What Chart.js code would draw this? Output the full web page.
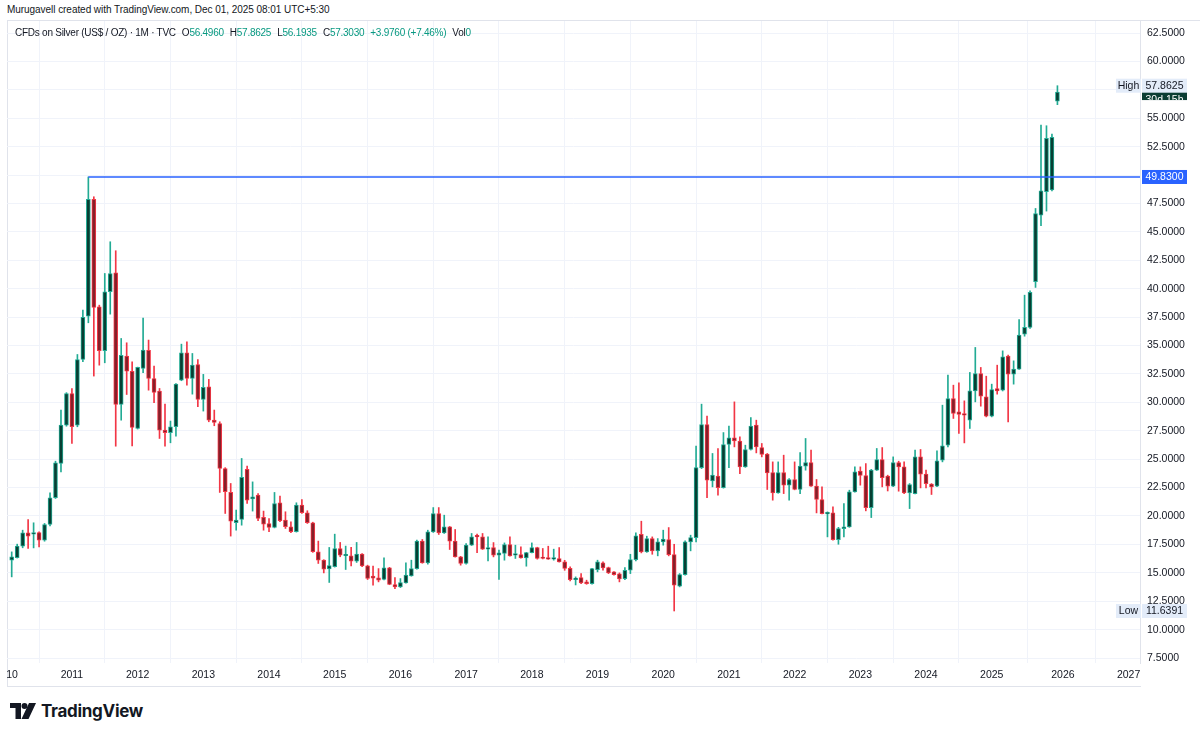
<!DOCTYPE html>
<html>
<head>
<meta charset="utf-8">
<script src="https://cdn.jsdelivr.net/npm/chart.js@4.4.0/dist/chart.umd.min.js"></script>
<style>
  html, body { margin: 0; padding: 0; background: #fff; }
  body { width: 1200px; height: 736px; position: relative; overflow: hidden;
         font-family: "Liberation Sans", Arial, sans-serif; color: #131722; }
  #credit { position: absolute; left: 7px; top: 4px; font-size: 10px; letter-spacing: -0.05px; white-space: nowrap; }
  #frame { position: absolute; left: 7px; top: 20px; width: 1193px; height: 667px;
           border-left: 1px solid #e0e3eb; border-top: 1px solid #e0e3eb; border-bottom: 1px solid #e0e3eb;
           box-sizing: border-box; }
  #wrap { position: absolute; left: 7px; top: 21px; width: 1193px; height: 666px; }
  #legend { position: absolute; left: 15px; top: 27px; font-size: 10px; letter-spacing: -0.25px; white-space: nowrap; z-index: 2; }
  #legend .v { color: #089981; }
  #legend .g { margin-left: 6px; }
  #logo { position: absolute; left: 10px; top: 701px; height: 20px; display: flex; align-items: center; }
  #logo span { font-family: Inter, Roboto, sans-serif; font-weight: 700; font-size: 17px; margin-left: 5px; letter-spacing: -0.3px; }
</style>
</head>
<body>
<div id="credit">Murugavell created with TradingView.com, Dec 01, 2025 08:01 UTC+5:30</div>
<div id="frame"></div>
<div id="wrap"><canvas id="chart"></canvas></div>
<div id="legend">CFDs on Silver (US$ / OZ) · 1M · TVC<span class="g">O<span class="v">56.4960</span></span><span class="g">H<span class="v">57.8625</span></span><span class="g">L<span class="v">56.1935</span></span><span class="g">C<span class="v">57.3030</span></span><span class="g v">+3.9760 (+7.46%)</span><span class="g">Vol<span class="v">0</span></span></div>
<div id="logo">
  <svg width="26" height="16" viewBox="0 0 26 16"><path d="M0 0h11v16H5.5V5H0z" fill="#131722"/><circle cx="14.5" cy="3" r="3" fill="#131722"/><path d="M19 0h7l-7.5 16h-7z" fill="#131722"/></svg>
  <span>TradingView</span>
</div>
<script>
// monthly bars, TVC silver CFD
const months = [
  '2010-02','2010-03','2010-04','2010-05','2010-06','2010-07','2010-08','2010-09','2010-10','2010-11','2010-12',
  '2011-01','2011-02','2011-03','2011-04','2011-05','2011-06','2011-07','2011-08','2011-09','2011-10','2011-11','2011-12',
  '2012-01','2012-02','2012-03','2012-04','2012-05','2012-06','2012-07','2012-08','2012-09','2012-10','2012-11','2012-12',
  '2013-01','2013-02','2013-03','2013-04','2013-05','2013-06','2013-07','2013-08','2013-09','2013-10','2013-11','2013-12',
  '2014-01','2014-02','2014-03','2014-04','2014-05','2014-06','2014-07','2014-08','2014-09','2014-10','2014-11','2014-12',
  '2015-01','2015-02','2015-03','2015-04','2015-05','2015-06','2015-07','2015-08','2015-09','2015-10','2015-11','2015-12',
  '2016-01','2016-02','2016-03','2016-04','2016-05','2016-06','2016-07','2016-08','2016-09','2016-10','2016-11','2016-12',
  '2017-01','2017-02','2017-03','2017-04','2017-05','2017-06','2017-07','2017-08','2017-09','2017-10','2017-11','2017-12',
  '2018-01','2018-02','2018-03','2018-04','2018-05','2018-06','2018-07','2018-08','2018-09','2018-10','2018-11','2018-12',
  '2019-01','2019-02','2019-03','2019-04','2019-05','2019-06','2019-07','2019-08','2019-09','2019-10','2019-11','2019-12',
  '2020-01','2020-02','2020-03','2020-04','2020-05','2020-06','2020-07','2020-08','2020-09','2020-10','2020-11','2020-12',
  '2021-01','2021-02','2021-03','2021-04','2021-05','2021-06','2021-07','2021-08','2021-09','2021-10','2021-11','2021-12',
  '2022-01','2022-02','2022-03','2022-04','2022-05','2022-06','2022-07','2022-08','2022-09','2022-10','2022-11','2022-12',
  '2023-01','2023-02','2023-03','2023-04','2023-05','2023-06','2023-07','2023-08','2023-09','2023-10','2023-11','2023-12',
  '2024-01','2024-02','2024-03','2024-04','2024-05','2024-06','2024-07','2024-08','2024-09','2024-10','2024-11','2024-12',
  '2025-01','2025-02','2025-03','2025-04','2025-05','2025-06','2025-07','2025-08','2025-09','2025-10','2025-11','2025-11b','2025-12'
];

const opens = [
  16.11, 16.34, 17.34, 18.51, 18.40, 18.54, 17.87, 19.25, 21.60, 24.62, 27.99,
  30.78, 27.99, 33.77, 37.59, 47.86, 38.41, 34.54, 39.73, 41.40, 29.81, 34.07, 32.72,
  27.70, 32.98, 34.57, 32.10, 30.98, 27.55, 27.32, 27.85, 31.95, 34.36, 32.10, 33.33,
  30.26, 31.37, 28.44, 28.14, 24.18, 22.07, 19.40, 19.69, 24.10, 21.50, 21.84, 19.87,
  19.34, 18.99, 21.16, 19.63, 19.05, 18.61, 20.96, 20.28, 19.40, 16.85, 16.11, 15.35,
  15.53, 17.14, 16.50, 16.49, 16.03, 16.64, 15.61, 14.70, 14.55, 14.41, 15.43, 13.97,
  13.76, 14.11, 14.73, 15.37, 17.78, 15.87, 18.60, 20.22, 18.51, 19.04, 17.78, 16.40,
  15.82, 17.43, 18.25, 18.16, 17.08, 17.22, 16.55, 16.70, 17.49, 16.55, 16.61, 16.31,
  16.78, 17.22, 16.31, 16.31, 16.20, 16.26, 15.96, 15.40, 14.40, 14.58, 14.20, 14.05,
  15.28, 15.87, 15.46, 15.08, 14.90, 14.49, 15.22, 16.16, 18.39, 16.84, 18.01, 16.93,
  17.72, 17.93, 16.60, 13.82, 14.84, 17.72, 18.10, 24.26, 28.05, 23.09, 23.50, 22.50,
  26.29, 26.87, 26.58, 24.32, 25.85, 27.99, 26.02, 25.44, 23.82, 22.03, 23.82, 22.71,
  23.21, 22.33, 24.38, 24.70, 22.62, 21.45, 20.19, 20.27, 17.92, 18.89, 19.04, 22.12,
  23.94, 23.56, 20.74, 24.03, 24.97, 23.50, 22.62, 24.70, 24.32, 22.03, 21.97, 25.20,
  23.68, 22.80, 22.62, 24.91, 26.23, 30.34, 29.17, 29.00, 28.43, 31.01, 32.54, 30.48,
  28.78, 31.22, 31.07, 34.06, 32.48, 32.92, 36.00, 36.59, 40.61, 46.48, 48.53, 48.70, 56.496
];
const highs = [
  16.84, 17.52, 18.75, 19.69, 19.40, 18.60, 19.34, 22.04, 24.82, 29.31, 30.85,
  31.22, 34.21, 38.12, 49.83, 48.09, 38.55, 41.34, 44.13, 43.34, 35.62, 35.24, 33.57,
  33.10, 37.41, 35.48, 33.19, 31.22, 29.84, 28.35, 31.65, 35.12, 35.33, 34.30, 33.77,
  32.46, 32.02, 29.32, 28.29, 24.25, 22.86, 20.52, 25.06, 24.39, 23.00, 21.98, 20.43,
  19.78, 22.07, 21.75, 20.37, 19.49, 21.16, 21.45, 20.46, 19.45, 17.79, 16.15, 17.23,
  18.40, 17.67, 17.35, 17.23, 17.67, 16.70, 15.67, 15.58, 15.37, 16.31, 15.48, 14.58,
  14.49, 15.87, 16.11, 17.87, 17.93, 18.75, 20.74, 20.74, 20.07, 19.08, 18.81, 16.45,
  17.58, 18.46, 18.40, 18.46, 18.16, 17.66, 16.99, 17.63, 18.16, 17.43, 17.28, 16.80,
  17.63, 17.25, 17.14, 17.34, 17.08, 17.22, 16.10, 15.52, 14.64, 14.93, 14.35, 15.40,
  16.11, 15.96, 15.50, 15.10, 14.99, 15.46, 16.63, 18.51, 19.54, 18.22, 18.16, 18.01,
  18.75, 18.98, 17.51, 14.93, 17.81, 18.31, 26.14, 29.84, 28.78, 25.50, 25.93, 27.34,
  27.90, 30.04, 26.96, 26.23, 28.66, 28.43, 26.38, 25.50, 24.76, 24.76, 25.35, 23.29,
  24.76, 25.58, 26.82, 25.79, 23.21, 22.56, 20.36, 20.80, 19.00, 21.09, 22.27, 24.32,
  24.32, 24.61, 24.10, 25.94, 26.02, 23.59, 25.20, 24.82, 24.76, 22.85, 25.79, 25.85,
  24.03, 22.85, 25.73, 29.75, 32.39, 31.51, 31.72, 30.13, 32.63, 34.83, 33.07, 32.30,
  31.60, 33.27, 34.53, 34.15, 33.65, 37.29, 39.43, 39.81, 47.06, 54.40, 54.34, 53.60, 57.8625
];
const lows = [
  14.64, 16.30, 17.20, 17.14, 17.19, 17.28, 17.78, 19.13, 21.54, 23.88, 27.90,
  26.38, 27.85, 33.57, 37.00, 32.31, 33.27, 33.48, 37.76, 26.14, 28.43, 30.69, 26.17,
  27.65, 32.60, 31.07, 29.96, 26.82, 26.14, 26.44, 27.02, 31.90, 31.51, 30.72, 29.61,
  29.23, 28.29, 27.94, 22.07, 20.22, 18.23, 18.75, 19.19, 21.10, 20.43, 19.58, 18.75,
  18.61, 18.95, 19.49, 18.90, 18.52, 18.58, 20.22, 19.34, 16.80, 15.82, 14.99, 14.15,
  15.50, 16.41, 15.29, 15.61, 15.91, 15.53, 14.41, 13.91, 14.20, 14.38, 13.95, 13.61,
  13.70, 14.08, 14.70, 15.32, 15.84, 15.76, 18.55, 18.37, 18.46, 17.05, 16.38, 15.67,
  15.76, 17.40, 16.78, 17.05, 16.05, 16.40, 14.41, 16.11, 16.46, 16.26, 16.28, 15.58,
  16.75, 16.20, 16.22, 16.18, 16.11, 15.94, 15.22, 14.29, 13.93, 14.05, 13.99, 14.00,
  15.08, 15.22, 14.93, 14.78, 14.20, 14.40, 14.93, 16.05, 16.75, 16.80, 16.63, 16.49,
  17.43, 16.49, 11.6391, 13.76, 14.80, 16.93, 17.72, 24.17, 21.62, 22.56, 21.83, 22.45,
  24.26, 26.08, 23.73, 24.28, 25.80, 25.55, 25.20, 22.33, 21.39, 22.00, 21.97, 21.39,
  22.30, 21.97, 24.03, 22.60, 20.27, 20.18, 18.16, 17.87, 17.51, 18.16, 19.00, 22.10,
  22.71, 20.45, 19.86, 24.00, 22.56, 22.20, 22.58, 22.18, 21.97, 20.65, 21.95, 22.47,
  22.47, 21.89, 22.58, 24.76, 26.08, 28.58, 27.26, 26.43, 27.70, 30.04, 29.66, 28.72,
  28.72, 30.72, 31.00, 28.28, 31.60, 32.90, 35.82, 36.50, 40.11, 45.54, 46.83, 48.60, 56.1935
];
const closes = [
  16.40, 17.34, 18.51, 18.22, 18.48, 17.87, 19.25, 21.60, 24.68, 27.99, 30.78,
  27.85, 33.77, 37.47, 47.86, 38.35, 34.54, 39.73, 41.34, 29.81, 34.13, 32.75, 27.79,
  33.07, 34.59, 32.10, 30.87, 27.55, 27.32, 27.85, 31.60, 34.36, 32.10, 33.27, 30.25,
  31.31, 28.44, 28.23, 24.18, 22.13, 19.55, 19.63, 23.39, 21.40, 21.68, 19.78, 19.28,
  18.99, 21.10, 19.58, 19.05, 18.61, 20.96, 20.28, 19.40, 16.85, 16.11, 15.32, 15.64,
  17.14, 16.55, 16.52, 16.03, 16.64, 15.61, 14.50, 14.52, 14.35, 15.43, 13.97, 13.76,
  14.14, 14.79, 15.37, 17.78, 15.87, 18.60, 20.22, 18.51, 19.04, 17.78, 16.40, 15.82,
  17.43, 18.16, 18.16, 17.08, 17.22, 16.55, 16.75, 17.49, 16.49, 16.64, 16.31, 16.78,
  17.22, 16.26, 16.26, 16.20, 16.30, 15.96, 15.38, 14.40, 14.50, 14.11, 14.05, 15.37,
  15.96, 15.43, 14.99, 14.84, 14.46, 15.22, 16.16, 18.25, 16.84, 18.01, 16.93, 17.72,
  17.96, 16.60, 13.90, 14.84, 17.72, 18.10, 24.26, 28.05, 23.15, 23.59, 22.50, 26.29,
  26.87, 26.61, 24.32, 25.85, 27.90, 26.08, 25.41, 23.79, 22.03, 23.82, 22.71, 23.21,
  22.33, 24.38, 24.70, 22.62, 21.45, 20.21, 20.27, 17.92, 18.89, 19.04, 22.12, 23.88,
  23.56, 20.74, 24.03, 24.97, 23.38, 22.62, 24.70, 24.32, 22.03, 22.77, 25.20, 23.68,
  22.85, 22.56, 24.85, 26.17, 30.34, 29.02, 28.93, 28.87, 31.01, 32.54, 30.54, 28.78,
  31.13, 31.01, 34.00, 32.48, 32.92, 35.91, 36.59, 39.67, 46.62, 48.62, 53.23, 53.327, 57.303
];

const yearLabels = ['2010','2011','2012','2013','2014','2015','2016','2017','2018',
  '2019','2020','2021','2022','2023','2024','2025','2026','2027'];
const priceTicks = [7.5, 10, 12.5, 15, 17.5, 20, 22.5, 25, 27.5, 30, 32.5, 35, 37.5,
  40, 42.5, 45, 47.5, 50, 52.5, 55, 57.5, 60, 62.5];
const resistance = 49.83;
const resistanceFrom = '2011-04';
const rangeHigh = 57.8625;
const rangeLow = 11.6391;
const lastPrice = 57.303;

const UP = '#22ab94', UP_FILL = '#073f33';
const DOWN = '#f23645', DOWN_FILL = '#86202a';

// bar index of each January, extrapolated left/right of the data
function yearPos(y) {
  const i = months.indexOf(y + '-01');
  if (i >= 0) return i;
  if (+y < 2011) return months.indexOf('2010-02') - 1;
  return months.length + (+y - 2026) * 12;
}
const yearTicks = yearLabels.map(yearPos);

const isUp = closes.map((c, i) => c >= opens[i]);
const bodies = months.map((m, i) => ({ x: i, y: [opens[i], closes[i]] }));
const wicks = months.map((m, i) => ({ x: i, y: [lows[i], highs[i]] }));

// bar 0 sits 4.7px right of the pane edge, 5.475px per bar
const BAR = 5.475;
const xMin = -4.7 / BAR;
const xMax = xMin + 1133 / BAR;

// keep chart.js from shrinking the plot to fit edge labels
function noPad(s) {
  s.paddingLeft = 0; s.paddingRight = 0; s.paddingTop = 0; s.paddingBottom = 0;
}

const priceLabels = {
  id: 'priceLabels',
  afterDraw(chart) {
    const { ctx, chartArea } = chart;
    const y = chart.scales.y;
    const bx = y.left + 2, bw = 45;

    // hide the part of the last time label that runs under the price scale
    ctx.fillStyle = '#ffffff';
    ctx.fillRect(chartArea.right + 1, chartArea.bottom + 1, 60, 23);

    ctx.save();
    ctx.font = '10.5px "Liberation Sans", Arial, sans-serif';
    ctx.textBaseline = 'middle';
    ctx.textAlign = 'center';

    // last price label, mostly covered by the High tag
    const yl = y.getPixelForValue(lastPrice);
    ctx.fillStyle = '#0b3d33';
    ctx.fillRect(bx, yl - 7, bw, 15);
    ctx.beginPath(); ctx.rect(bx, yl - 7, bw, 15); ctx.clip();
    ctx.fillStyle = '#ffffff';
    ctx.fillText('30d 15h', bx + bw / 2, yl + 8);
    ctx.restore();

    ctx.save();
    ctx.font = '10.5px "Liberation Sans", Arial, sans-serif';
    ctx.textBaseline = 'middle';
    ctx.textAlign = 'center';
    function tag(v, bg, fg, txt, side) {
      const py = y.getPixelForValue(v);
      ctx.fillStyle = bg;
      ctx.fillRect(bx, py - 7, bw, 14);
      ctx.fillStyle = fg;
      ctx.fillText(txt, bx + bw / 2, py + 0.5);
      if (side) {
        ctx.fillStyle = bg;
        ctx.fillRect(bx - 26, py - 7, 25, 14);
        ctx.fillStyle = fg;
        ctx.fillText(side, bx - 13.5, py + 0.5);
      }
    }
    tag(rangeHigh, '#e3ecf9', '#131722', rangeHigh.toFixed(4), 'High');
    tag(rangeLow, '#e3ecf9', '#131722', rangeLow.toFixed(4), 'Low');
    tag(resistance, '#2962ff', '#ffffff', resistance.toFixed(4));
    ctx.restore();
  }
};

new Chart(document.getElementById('chart'), {
  type: 'bar',
  data: {
    datasets: [
      {
        type: 'line',
        data: [{ x: months.indexOf(resistanceFrom), y: resistance }, { x: xMax, y: resistance }],
        borderColor: '#2962ff',
        borderWidth: 1.5,
        pointRadius: 0,
        order: 0
      },
      {
        data: bodies,
        grouped: false,
        barThickness: 4,
        minBarLength: 1.5,
        borderWidth: 1,
        borderSkipped: false,
        backgroundColor: ctx => isUp[ctx.dataIndex] ? UP_FILL : DOWN_FILL,
        borderColor: ctx => isUp[ctx.dataIndex] ? UP : DOWN,
        order: 1
      },
      {
        data: wicks,
        grouped: false,
        barThickness: 1,
        backgroundColor: ctx => isUp[ctx.dataIndex] ? UP : DOWN,
        order: 2
      }
    ]
  },
  options: {
    responsive: true,
    maintainAspectRatio: false,
    animation: false,
    layout: { padding: 0, autoPadding: false },
    plugins: { legend: { display: false }, tooltip: { enabled: false } },
    scales: {
      x: {
        type: 'linear',
        min: xMin,
        max: xMax,
        offset: false,
        afterBuildTicks: s => { s.ticks = yearTicks.map(v => ({ value: v })); },
        afterFit: s => { s.height = 24; noPad(s); },
        ticks: {
          autoSkip: false,
          maxRotation: 0,
          padding: 6,
          color: '#131722',
          font: { family: '"Liberation Sans", Arial, sans-serif', size: 10.5 },
          callback: v => yearLabels[yearTicks.indexOf(v)]
        },
        grid: { color: '#f0f3fa', drawTicks: false },
        border: { display: false }
      },
      y: {
        position: 'right',
        min: 7.062,
        max: 63.556,
        afterBuildTicks: s => { s.ticks = priceTicks.map(v => ({ value: v })); },
        afterFit: s => { s.width = 60; noPad(s); },
        ticks: {
          padding: 7,
          color: '#131722',
          font: { family: '"Liberation Sans", Arial, sans-serif', size: 10.5 },
          callback: v => v.toFixed(4)
        },
        grid: { color: '#f0f3fa', drawTicks: false },
        border: { color: '#e0e3eb' }
      }
    }
  },
  plugins: [priceLabels]
});
</script>
</body>
</html>
